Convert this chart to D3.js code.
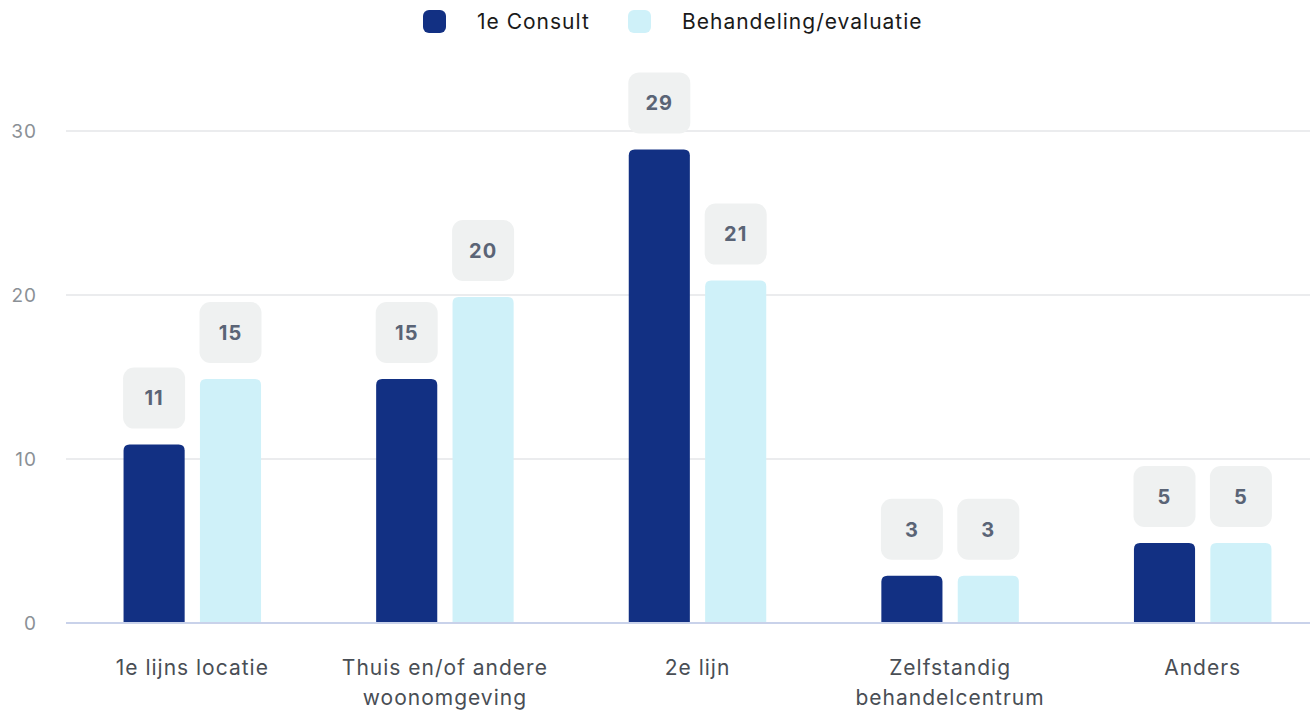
<!DOCTYPE html>
<html>
<head>
<meta charset="utf-8">
<script src="https://cdn.jsdelivr.net/npm/d3@7"></script>
<style>
html,body{margin:0;padding:0;background:#fff;}
svg{display:block;font-family:Inter,"Noto Sans",sans-serif;}
</style>
</head>
<body>
<svg id="chart" width="1310" height="711"></svg>
<script>
const categories = [["1e lijns locatie"], ["Thuis en/of andere", "woonomgeving"], ["2e lijn"], ["Zelfstandig", "behandelcentrum"], ["Anders"]];
const seriesNames = ["1e Consult", "Behandeling/evaluatie"];
const consult = [11, 15, 29, 3, 5];
const behandeling = [15, 20, 21, 3, 5];
const yTicks = [0, 10, 20, 30];
const colors = ["#123083", "#cff1f9"];

const svg = d3.select("#chart");
const W = 1310;
const left = 66, step = 252.6;
const keys = categories.map(c => c.join(" "));
const x0 = d3.scaleBand().domain(keys).range([left, left + step * keys.length]).padding(0);
const x1 = d3.scaleBand().domain(seriesNames).range([0, 137.5]).paddingInner(0.2).paddingOuter(0);
const y = d3.scaleLinear().domain([0, 30]).range([623, 131]);

// gridlines
const grid = svg.append("g");
grid.selectAll("line").data(yTicks.filter(t => t > 0)).join("line")
  .attr("x1", left).attr("x2", W)
  .attr("y1", d => y(d)).attr("y2", d => y(d))
  .attr("stroke", "#e4e6e8").attr("stroke-width", 1.5);

// y axis labels
const yAxis = d3.axisLeft(y).tickValues(yTicks).tickSize(0).tickPadding(0);
const ya = svg.append("g").attr("transform", "translate(37,0)").call(yAxis);
ya.select(".domain").remove();
ya.selectAll("text").attr("font-size", 19).attr("letter-spacing", 1).attr("fill", "#8b9096").attr("font-family", "Inter,sans-serif").attr("dy", "0.36em");

// bars
const data = keys.map((k, i) => ({ key: k, vals: [consult[i], behandeling[i]] }));
const groups = svg.append("g").selectAll("g").data(data).join("g")
  .attr("transform", d => `translate(${x0(d.key) + x0.bandwidth() / 2 - 137.5 / 2},0)`);

const bw = x1.bandwidth();
const r = 6;
function barPath(x, yTop, w, yBot) {
  const rr = Math.min(r, (yBot - yTop));
  return `M${x},${yBot} L${x},${yTop + rr} Q${x},${yTop} ${x + rr},${yTop} L${x + w - rr},${yTop} Q${x + w},${yTop} ${x + w},${yTop + rr} L${x + w},${yBot} Z`;
}
groups.selectAll("path.bar").data(d => d.vals.map((v, j) => ({ name: seriesNames[j], v, j })))
  .join("path").attr("class", "bar")
  .attr("d", d => barPath(x1(d.name), y(d.v) + 2, bw, y(0)))
  .attr("fill", d => colors[d.j]);

// value label boxes
const lab = groups.selectAll("g.lab").data(d => d.vals.map((v, j) => ({ name: seriesNames[j], v, j })))
  .join("g").attr("class", "lab")
  .attr("transform", d => `translate(${x1(d.name) + bw / 2},${y(d.v) + 2 - 16 - 30.5})`);
lab.append("rect").attr("x", -31).attr("y", -30.5).attr("width", 62).attr("height", 61)
  .attr("rx", 11).attr("fill", "#eff1f1");
lab.append("text").attr("text-anchor", "middle").attr("dy", "0.36em")
  .attr("font-size", 20).attr("font-weight", 700).attr("letter-spacing", 1).attr("fill", "#5a6476")
  .text(d => d.v);

// baseline
svg.append("line").attr("x1", left).attr("x2", W).attr("y1", y(0)).attr("y2", y(0))
  .attr("stroke", "#c9d2ea").attr("stroke-width", 2);

// x labels
const xl = svg.append("g").selectAll("text").data(categories.map((c, i) => ({ lines: c, key: keys[i] }))).join("text")
  .attr("x", d => x0(d.key) + x0.bandwidth() / 2)
  .attr("y", 675)
  .attr("text-anchor", "middle")
  .attr("font-size", 21).attr("letter-spacing", 1).attr("fill", "#494e55");
xl.selectAll("tspan").data(d => d.lines.map(l => ({ l, x: x0(d.key) + x0.bandwidth() / 2 }))).join("tspan")
  .attr("x", d => d.x).attr("dy", (d, i) => i === 0 ? 0 : 30).text(d => d.l);

// legend
const legendX = [423, 628];
const leg = svg.append("g").selectAll("g").data(seriesNames).join("g")
  .attr("transform", (d, i) => `translate(${legendX[i]},10)`);
leg.append("rect").attr("width", 23).attr("height", 23).attr("rx", 6).attr("fill", (d, i) => colors[i]);
leg.append("text").attr("x", 54).attr("y", 11.5).attr("dy", "0.36em")
  .attr("font-size", 21).attr("letter-spacing", 1).attr("fill", "#1a1a1a").text(d => d);
</script>
</body>
</html>
